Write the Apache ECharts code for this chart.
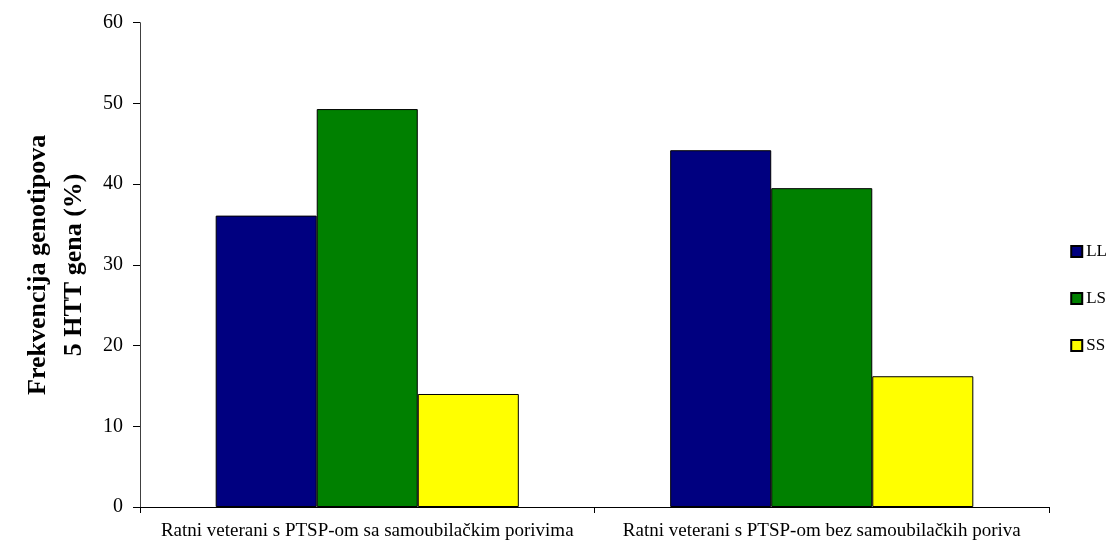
<!DOCTYPE html>
<html>
<head>
<meta charset="utf-8">
<script src="https://cdn.jsdelivr.net/npm/echarts@6/dist/echarts.min.js"></script>
<style>html,body{margin:0;padding:0;background:#fff}#c{width:1115px;height:543px}</style>
</head>
<body>
<div id="c"></div>
<script>
const categories = ['Ratni veterani s PTSP-om sa samoubilačkim porivima', 'Ratni veterani s PTSP-om bez samoubilačkih poriva'];
const seriesNames = ['LL', 'LS', 'SS'];
const LL = [36.1, 44.2];
const LS = [49.3, 39.5];
const SS = [14.0, 16.2];
const yTicks = [0, 10, 20, 30, 40, 50, 60];
const colors = ['#000080', '#008000', '#FFFF00'];

const font = 'Liberation Serif, Times New Roman, serif';
const chart = echarts.init(document.getElementById('c'), null, {renderer: 'canvas'});
const data = [LL, LS, SS];
chart.setOption({
  animation: false,
  backgroundColor: '#fff',
  grid: {left: 140, right: 66, top: 22.7, bottom: 36, containLabel: false},
  legend: {
    orient: 'vertical', right: 8, top: 243, padding: 0,
    itemWidth: 11, itemHeight: 11, itemGap: 30,
    icon: 'rect',
    textStyle: {fontFamily: font, fontSize: 17, color: '#000', padding: [0,0,0,-1]},
    data: seriesNames
  },
  xAxis: {
    type: 'category', data: categories,
    axisLine: {lineStyle: {color: '#000', width: 1}},
    axisTick: {show: true, length: 6, lineStyle: {color: '#000'}},
    axisLabel: {fontFamily: font, fontSize: 19, color: '#000', margin: 15, interval: 0}
  },
  yAxis: {
    type: 'value', min: yTicks[0], max: yTicks[yTicks.length-1], interval: 10,
    name: 'Frekvencija genotipova\n5 HTT gena (%)',
    nameLocation: 'middle', nameGap: 46, nameRotate: 90,
    nameTextStyle: {fontFamily: font, fontSize: 26, fontWeight: 'bold', color: '#000', lineHeight: 36, padding: [0, 0, 0, 0]},
    axisLine: {show: true, lineStyle: {color: '#404040', width: 1}},
    axisTick: {show: true, length: 7, lineStyle: {color: '#000'}},
    axisLabel: {fontFamily: font, fontSize: 20, color: '#000', margin: 17},
    splitLine: {show: false}
  },
  series: seriesNames.map((n, i) => ({
    name: n, type: 'bar', data: data[i],
    barGap: '0%', barCategoryGap: '33.3%',
    itemStyle: {color: colors[i], borderColor: '#000', borderWidth: 1}
  }))
});
</script>
</body>
</html>
